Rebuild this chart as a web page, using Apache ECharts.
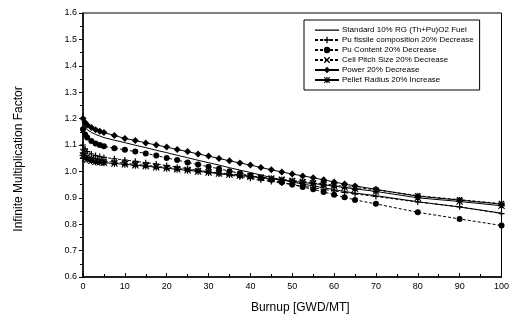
<!DOCTYPE html>
<html>
<head>
<meta charset="utf-8">
<script src="https://cdn.jsdelivr.net/npm/echarts@6/dist/echarts.min.js"></script>
<style>
  html, body { margin: 0; padding: 0; background: #fff; }
  #chart { width: 512px; height: 326px; }
</style>
</head>
<body>
<div id="chart"></div>
<script>
// burnup points (GWD/MT)
const burnup = [0, 0.5, 1, 2, 3, 4, 5, 7.5, 10, 12.5, 15, 17.5, 20, 22.5, 25, 27.5, 30, 32.5, 35, 37.5,
  40, 42.5, 45, 47.5, 50, 52.5, 55, 57.5, 60, 62.5, 65, 70, 80, 90, 100];

const standard = [1.185, 1.168, 1.158, 1.148, 1.140, 1.134, 1.128, 1.118, 1.109, 1.099, 1.090, 1.080, 1.071, 1.061,
  1.052, 1.042, 1.033, 1.024, 1.014, 1.005, 0.996, 0.986, 0.977, 0.968, 0.960, 0.952, 0.945, 0.938, 0.931, 0.924,
  0.918, 0.908, 0.885, 0.865, 0.842];
const puFissile = [1.100, 1.085, 1.075, 1.066, 1.060, 1.056, 1.053, 1.048, 1.043, 1.038, 1.033, 1.028, 1.022, 1.016,
  1.010, 1.004, 0.998, 0.992, 0.986, 0.980, 0.974, 0.968, 0.962, 0.956, 0.950, 0.944, 0.938, 0.932, 0.926, 0.920,
  0.915, 0.905, 0.884, 0.866, 0.840];
const puContent = [1.160, 1.140, 1.128, 1.115, 1.106, 1.100, 1.095, 1.088, 1.082, 1.075, 1.068, 1.060, 1.051, 1.043,
  1.034, 1.026, 1.018, 1.010, 1.001, 0.993, 0.984, 0.976, 0.968, 0.959, 0.950, 0.941, 0.932, 0.922, 0.912, 0.902,
  0.892, 0.877, 0.845, 0.820, 0.795];
const cellPitch = [1.075, 1.062, 1.055, 1.048, 1.044, 1.041, 1.039, 1.035, 1.031, 1.027, 1.023, 1.019, 1.015, 1.011,
  1.007, 1.003, 0.999, 0.995, 0.991, 0.987, 0.983, 0.978, 0.974, 0.970, 0.966, 0.962, 0.957, 0.953, 0.948, 0.943,
  0.939, 0.930, 0.908, 0.893, 0.878];
const power = [1.200, 1.185, 1.176, 1.166, 1.158, 1.152, 1.147, 1.136, 1.125, 1.117, 1.108, 1.100, 1.092, 1.083,
  1.075, 1.066, 1.058, 1.049, 1.040, 1.032, 1.024, 1.015, 1.006, 0.998, 0.990, 0.983, 0.976, 0.968, 0.960, 0.952,
  0.945, 0.932, 0.906, 0.891, 0.876];
const pelletRadius = [1.060, 1.050, 1.045, 1.040, 1.037, 1.035, 1.033, 1.030, 1.027, 1.023, 1.020, 1.016, 1.012, 1.008,
  1.004, 1.000, 0.996, 0.992, 0.988, 0.984, 0.980, 0.976, 0.972, 0.967, 0.963, 0.958, 0.954, 0.949, 0.944, 0.939,
  0.934, 0.924, 0.900, 0.886, 0.870];

const names = [
  "Standard 10% RG (Th+Pu)O2 Fuel",
  "Pu fissile composition 20% Decrease",
  "Pu Content 20% Decrease",
  "Cell Pitch Size 20% Decrease",
  "Power 20% Decrease",
  "Pellet Radius 20% Increase"
];

const PLUS = "path://M4,0h2v4h4v2h-4v4h-2v-4h-4v-2h4z";
const CROSS = "path://M1.5,0L5,3.5L8.5,0L10,1.5L6.5,5L10,8.5L8.5,10L5,6.5L1.5,10L0,8.5L3.5,5L0,1.5z";
const STAR = "path://M4.2,0h1.6v10h-1.6z M0,4.2h10v1.6h-10z M1.1,0L5,3.9L8.9,0L10,1.1L6.1,5L10,8.9L8.9,10L5,6.1L1.1,10L0,8.9L3.9,5L0,1.1z";
// plain line icon for the unmarked series (tiny corner dots keep the 24x8 box)
const LINE_ICON = "path://M0,0h0.01v0.01h-0.01z M0,3.5h24v1.2h-24z M23.99,7.99h0.01v0.01h-0.01z";

const font = "'Liberation Sans', Arial, sans-serif";

function makeSeries(name, values, symbol, size, dashed) {
  return {
    name,
    type: "line",
    data: burnup.map((b, i) => [b, values[i]]),
    symbol,
    symbolSize: size,
    showSymbol: symbol !== "none",
    showAllSymbol: true,
    animation: false,
    lineStyle: { color: "#000", width: 1, type: dashed ? [3, 2] : "solid" },
    itemStyle: { color: "#000" }
  };
}

const chart = echarts.init(document.getElementById("chart"));
chart.setOption({
  animation: false,
  backgroundColor: "#fff",
  grid: {
    left: 83, right: 10, top: 13, bottom: 49,
    show: true, borderColor: "#000", borderWidth: 1
  },
  legend: {
    orient: "vertical",
    left: 304, top: 20,
    width: 172,
    padding: [6, 6, 6, 10],
    itemGap: 2,
    itemWidth: 24, itemHeight: 8,
    borderColor: "#000", borderWidth: 1,
    backgroundColor: "#fff",
    textStyle: { fontFamily: font, fontSize: 8, color: "#000", padding: [0, 0, 0, -2] },
    data: [{ name: names[0], icon: LINE_ICON }].concat(names.slice(1))
  },
  xAxis: {
    type: "value",
    min: 0, max: 100, interval: 10,
    name: "Burnup [GWD/MT]",
    nameLocation: "middle",
    nameGap: 25,
    nameTextStyle: { fontFamily: font, fontSize: 12, color: "#000", padding: [0, 0, 0, 16] },
    axisLine: { lineStyle: { color: "#000", width: 1.5 } },
    axisTick: { show: true, inside: true, length: 4, lineStyle: { color: "#000" } },
    minorTick: { show: true, splitNumber: 2, length: 3, lineStyle: { color: "#000" } },
    axisLabel: { fontFamily: font, fontSize: 9, color: "#000", margin: 5 },
    splitLine: { show: false }
  },
  yAxis: {
    type: "value",
    min: 0.6, max: 1.6, interval: 0.1,
    name: "Infinite Multiplication Factor",
    nameLocation: "middle",
    nameGap: 58,
    nameTextStyle: { fontFamily: font, fontSize: 12, color: "#000", padding: [0, 28, 0, 0] },
    axisLine: { lineStyle: { color: "#000", width: 1.5 } },
    axisTick: { show: true, inside: false, length: 4, lineStyle: { color: "#000" } },
    minorTick: { show: true, splitNumber: 2, length: 3, lineStyle: { color: "#000" } },
    axisLabel: { fontFamily: font, fontSize: 9, color: "#000", margin: 6, formatter: v => v.toFixed(1) },
    splitLine: { show: false }
  },
  series: [
    makeSeries(names[0], standard, "none", 0, false),
    makeSeries(names[1], puFissile, PLUS, 6, true),
    makeSeries(names[2], puContent, "circle", 6, true),
    makeSeries(names[3], cellPitch, CROSS, 6, true),
    makeSeries(names[4], power, "diamond", 7, false),
    makeSeries(names[5], pelletRadius, STAR, 7, false)
  ]
});
</script>
</body>
</html>
